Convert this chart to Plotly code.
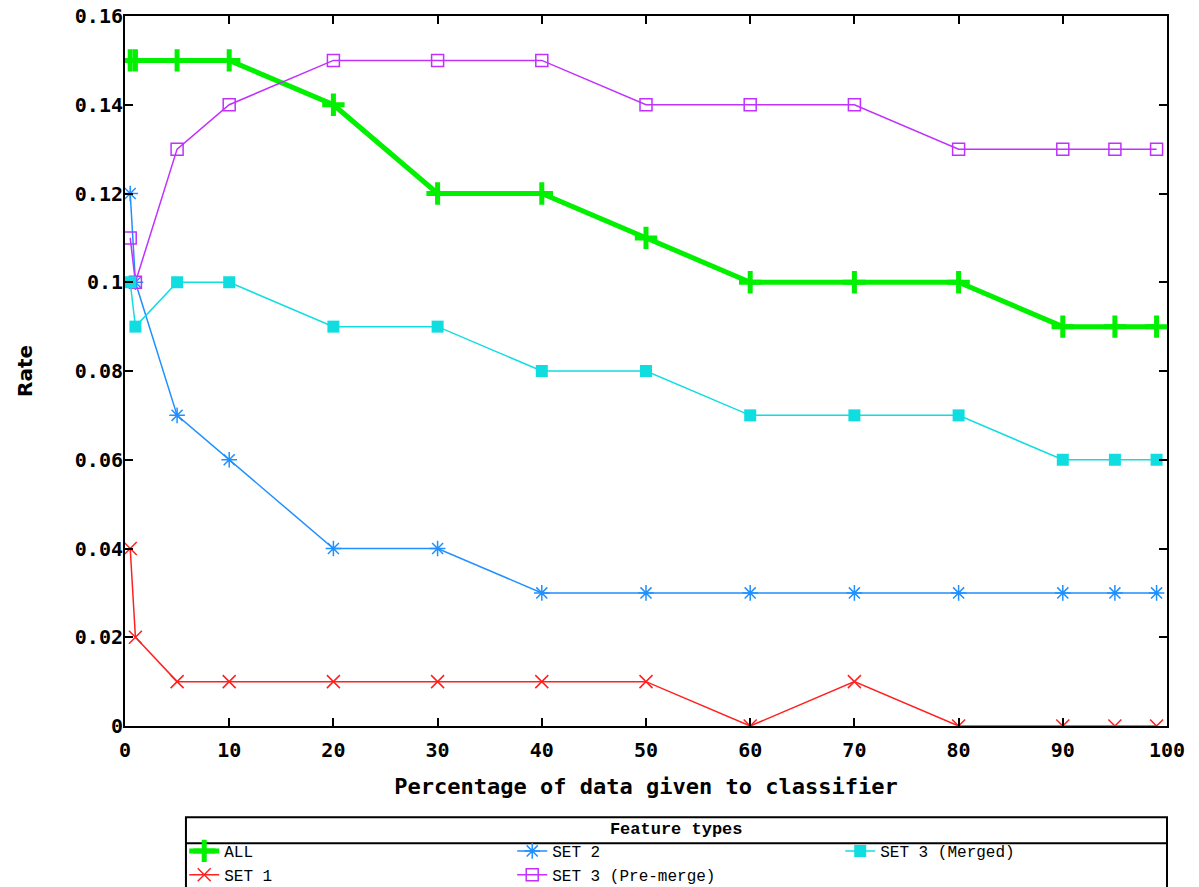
import plotly.graph_objects as go

x_pct = [0.5, 1, 5, 10, 20, 30, 40, 50, 60, 70, 80, 90, 95, 99]

all_rate = [0.15, 0.15, 0.15, 0.15, 0.14, 0.12, 0.12, 0.11, 0.10, 0.10, 0.10, 0.09, 0.09, 0.09]
set1_rate = [0.04, 0.02, 0.01, 0.01, 0.01, 0.01, 0.01, 0.01, 0.0, 0.01, 0.0, 0.0, 0.0, 0.0]
set2_rate = [0.12, 0.10, 0.07, 0.06, 0.04, 0.04, 0.03, 0.03, 0.03, 0.03, 0.03, 0.03, 0.03, 0.03]
set3_pre = [0.11, 0.10, 0.13, 0.14, 0.15, 0.15, 0.15, 0.14, 0.14, 0.14, 0.13, 0.13, 0.13, 0.13]
set3_merged = [0.10, 0.09, 0.10, 0.10, 0.09, 0.09, 0.08, 0.08, 0.07, 0.07, 0.07, 0.06, 0.06, 0.06]

x_ticks = [0, 10, 20, 30, 40, 50, 60, 70, 80, 90, 100]
y_ticks = [0, 0.02, 0.04, 0.06, 0.08, 0.1, 0.12, 0.14, 0.16]
y_tick_text = ["0", "0.02", "0.04", "0.06", "0.08", "0.1", "0.12", "0.14", "0.16"]

mono = "DejaVu Sans Mono"

fig = go.Figure()
fig.add_trace(go.Scatter(
    x=x_pct, y=all_rate, name="ALL", mode="lines+markers", legendrank=1,
    line=dict(color="#00f000", width=5),
    marker=dict(symbol="cross-thin-open", size=16, line=dict(color="#00f000", width=5), color="#00f000")))
fig.add_trace(go.Scatter(
    x=x_pct, y=set1_rate, name="SET 1", mode="lines+markers", legendrank=4,
    line=dict(color="#ff2020", width=1.5),
    marker=dict(symbol="x-thin-open", size=13, line=dict(color="#ff2020", width=1.5), color="#ff2020")))
fig.add_trace(go.Scatter(
    x=x_pct, y=set2_rate, name="SET 2", mode="lines+markers", legendrank=2,
    line=dict(color="#2090ff", width=1.5),
    marker=dict(symbol="asterisk-open", size=13, line=dict(color="#2090ff", width=1.5), color="#2090ff")))
fig.add_trace(go.Scatter(
    x=x_pct, y=set3_pre, name="SET 3 (Pre-merge)", mode="lines+markers", legendrank=5,
    line=dict(color="#c030ff", width=1.5),
    marker=dict(symbol="square-open", size=12, line=dict(color="#c030ff", width=1.5), color="#c030ff")))
fig.add_trace(go.Scatter(
    x=x_pct, y=set3_merged, name="SET 3 (Merged)", mode="lines+markers", legendrank=3,
    line=dict(color="#10dde0", width=1.5),
    marker=dict(symbol="square", size=12, color="#10dde0")))

tick_font = dict(family=mono, size=20, color="black", weight="bold")

# page body has an 8px margin, so the figure is 8px smaller and shifted
fig.update_layout(
    width=1191, height=879,
    margin=dict(l=117, r=32, t=8, b=161, autoexpand=False),
    plot_bgcolor="white", paper_bgcolor="white",
    font=dict(family=mono, color="black"),
    xaxis=dict(range=[0, 100], tickvals=x_ticks, ticks="inside", ticklen=8, tickwidth=2,
               tickcolor="black", showline=True, linecolor="black", linewidth=2, mirror="ticks",
               showgrid=False, zeroline=False, tickfont=tick_font, ticklabelstandoff=5,
               ticklabeloverflow="allow",
               title=dict(text="Percentage of data given to classifier",
                          font=dict(family=mono, size=22, weight="bold"), standoff=18)),
    yaxis=dict(range=[0, 0.16], tickvals=y_ticks, ticktext=y_tick_text, ticks="inside", ticklen=8,
               tickwidth=2, tickcolor="black", showline=True, linecolor="black", linewidth=2,
               mirror="ticks", showgrid=False, zeroline=False, tickfont=tick_font,
               ticklabelstandoff=-4, ticklabeloverflow="allow",
               title=dict(text="Rate", font=dict(family="DejaVu Sans", size=20, weight="bold"),
                          standoff=37)),
    showlegend=True,
    legend=dict(orientation="h", x=0.529, xanchor="center", y=-0.121, yanchor="top",
                bgcolor="rgba(0,0,0,0)", borderwidth=0,
                entrywidth=283, entrywidthmode="pixels", tracegroupgap=0,
                font=dict(family="Liberation Mono", size=16, color="black"),
                title=dict(text="Feature types", side="top center",
                           font=dict(family="Liberation Mono", size=17, color="black",
                                     weight="bold"))),
    shapes=[
        dict(type="rect", xref="paper", yref="paper", x0=0.0585, x1=1.0,
             y0=-0.3, y1=-0.1285, line=dict(color="black", width=2)),
        dict(type="line", xref="paper", yref="paper", x0=0.0585, x1=1.0,
             y0=-0.165, y1=-0.165, line=dict(color="black", width=2)),
    ],
)

fig.write_html("out.html")
